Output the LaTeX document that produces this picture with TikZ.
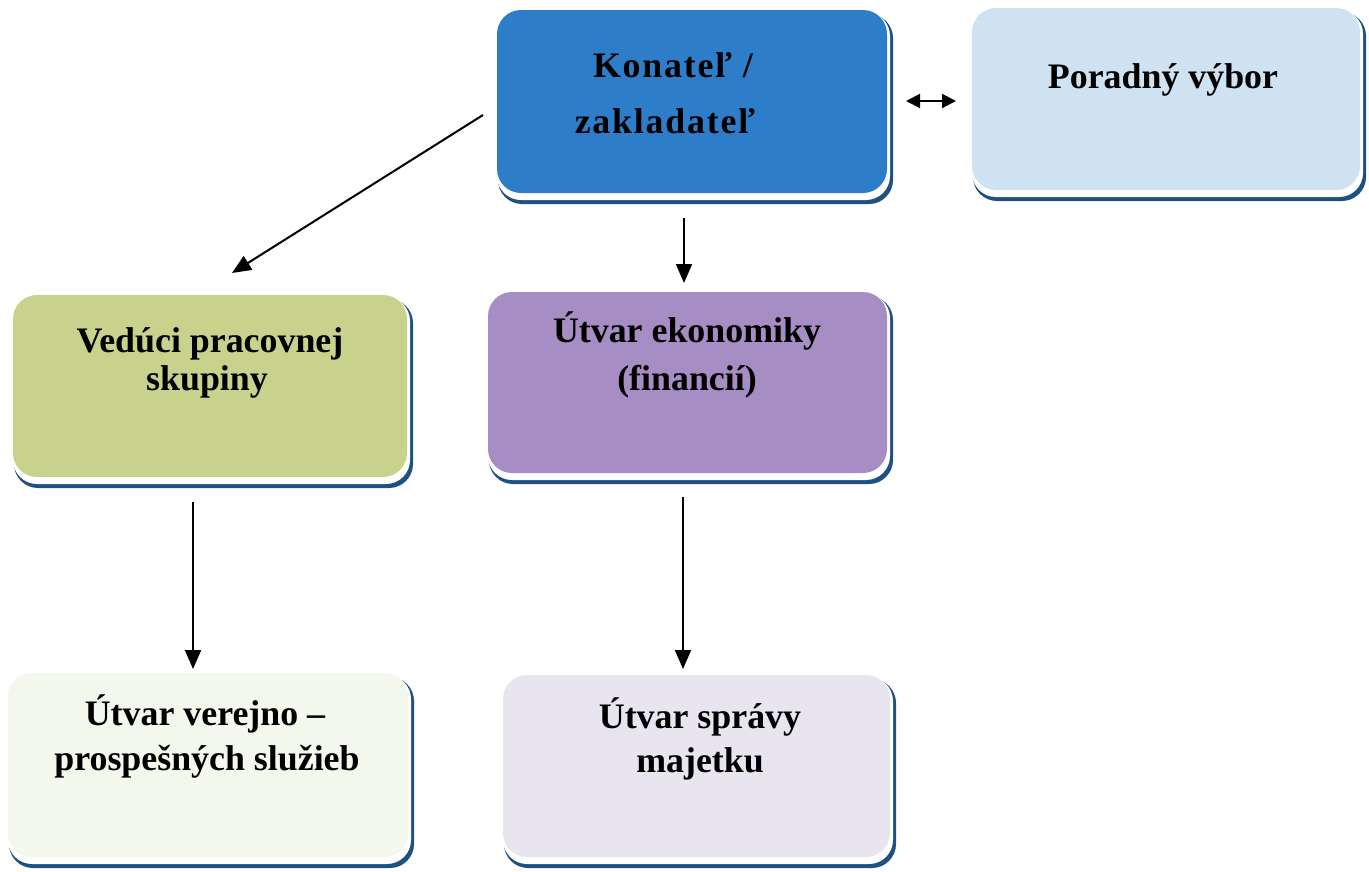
\documentclass[tikz,border=0pt]{standalone}
\usepackage{fontspec}
\setmainfont{Liberation Serif}
\usetikzlibrary{arrows.meta,fit}
\definecolor{shblue}{RGB}{30,80,130}
\definecolor{cKon}{RGB}{46,125,200}
\definecolor{cPor}{RGB}{207,226,242}
\definecolor{cVed}{RGB}{200,210,140}
\definecolor{cEko}{RGB}{166,141,195}
\definecolor{cVer}{RGB}{244,248,236}
\definecolor{cSpr}{RGB}{232,229,238}
\tikzset{
  box/.style={rectangle, rounded corners=24bp, inner sep=0pt, draw=none},
  lbl/.style={anchor=base, inner sep=0pt, font=\fontsize{36}{40}\selectfont\bfseries},
  arr/.style={line width=2bp, -{Triangle[length=19bp,width=16bp]}},
  darr/.style={line width=2bp, {Triangle[length=14bp,width=14bp]}-{Triangle[length=14bp,width=14bp]}}
}
\newcommand\orgbox[6]{%
  \fill[shblue, rounded corners=24bp] (#2+1,#3+4) rectangle (#4+6,#5+11);
  \fill[white, rounded corners=24bp] (#2,#3+2) rectangle (#4+3,#5+7);
  \node[box, fill=#6, fit={(#2,#3) (#4,#5)}] (#1) {};}
\begin{document}
\begin{tikzpicture}[x=1bp,y=-1bp]
\useasboundingbox[fill=white] (0,0) rectangle (1369,871);
\orgbox{kon}{497}{10}{887}{193}{cKon}
\orgbox{por}{972}{8}{1360}{190}{cPor}
\orgbox{ved}{13}{295}{407}{477}{cVed}
\orgbox{eko}{488}{292}{887}{473}{cEko}
\orgbox{ver}{8}{673}{408}{857}{cVer}
\orgbox{spr}{503}{675}{890}{857}{cSpr}
% texts
\node[lbl] (k1) at (673,77) {\addfontfeature{LetterSpace=5}Konateľ /};
\node[lbl] (k2) at (665,133) {\addfontfeature{LetterSpace=5}zakladateľ};
\node[lbl] (p1) at (1163,88) {Poradný výbor};
\node[lbl] (v1) at (210,352) {Vedúci pracovnej};
\node[lbl] (v2) at (207,390) {skupiny};
\node[lbl] (e1) at (687,342) {Útvar ekonomiky};
\node[lbl] (e2) at (687,390) {(financií)};
\node[lbl] (r1) at (205,725) {Útvar verejno –};
\node[lbl] (r2) at (207,770) {prospešných služieb};
\node[lbl] (s1) at (700,728) {Útvar správy};
\node[lbl] (s2) at (700,772) {majetku};
% connector ends
\coordinate (konL) at (483,115);
\coordinate (vedT) at (232,273);
\coordinate (konB) at (684,218);
\coordinate (ekoT) at (684,283);
\coordinate (konR) at (906,101);
\coordinate (porL) at (956,101);
\coordinate (vedB) at (193,502);
\coordinate (verT) at (193,669);
\coordinate (ekoB) at (683,497);
\coordinate (sprT) at (683,669);
\draw[arr] (konL) -- (vedT);
\draw[arr] (konB) -- (ekoT);
\draw[darr] (konR) -- (porL);
\draw[arr] (vedB) -- (verT);
\draw[arr] (ekoB) -- (sprT);
\end{tikzpicture}
\end{document}
